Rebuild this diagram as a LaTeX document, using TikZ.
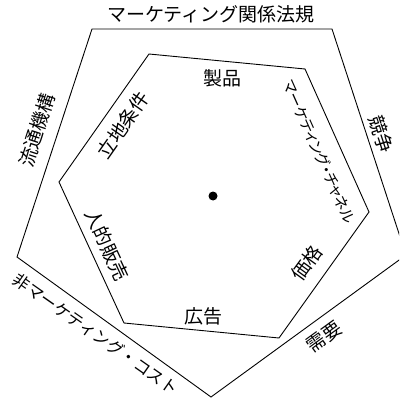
\documentclass[tikz,border=0pt]{standalone}
\usepackage{fontspec}
\newfontfamily\jp{Noto Sans CJK JP}
\newfontfamily\jpp{Noto Sans CJK JP}[RawFeature=+palt]
\begin{document}
\begin{tikzpicture}[x=1pt,y=-1pt,
  lbl/.style={font=\jp\fontsize{19}{19}\selectfont, inner sep=0pt},
  mid/.style={font=\jp\fontsize{16.5}{16.5}\selectfont, inner sep=0pt},
  small/.style={font=\jpp\fontsize{15}{15}\selectfont, inner sep=0pt},
  edge/.style={line width=0.9pt, line join=miter}]
\useasboundingbox (0,0) rectangle (399,403);
\clip (0,0) rectangle (399,403);
% outer pentagon
\coordinate (o1) at (92,29);
\coordinate (o2) at (332,29);
\coordinate (o3) at (406,255);
\coordinate (o4) at (211,397);
\coordinate (o5) at (17,257);
\draw[edge] (o1)--(o2)--(o3)--(o4)--(o5)--cycle;
% inner hexagon
\coordinate (i1) at (149,54);
\coordinate (i2) at (305,69);
\coordinate (i3) at (369,212);
\coordinate (i4) at (279,338);
\coordinate (i5) at (124,323);
\coordinate (i6) at (59,182);
\draw[edge] (i1)--(i2)--(i3)--(i4)--(i5)--(i6)--cycle;
% centre
\fill (213,196) circle (4.5);
% outer labels
\node[lbl] (law) at (211,14) {マーケティング関係法規};
\node[lbl, rotate=-72] (comp) at (381,134) {競争};
\node[lbl, rotate=36] (dem) at (324,337) {需要};
\node[mid, rotate=-35] (nmc) at (96,334) {非マーケティング・コスト};
\node[lbl, rotate=72] (dist) at (37,130) {流通機構};
% inner labels
\node[lbl] (prod) at (222,78) {製品};
\node[small, rotate=-66] (chan) at (319,152) {マーケティング・チャネル};
\node[lbl, rotate=54] (price) at (307,263) {価格};
\node[lbl] (adv) at (203,316) {広告};
\node[lbl, rotate=-65] (sell) at (107,245) {人的販売};
\node[lbl, rotate=55] (loc) at (123,125) {立地条件};
\end{tikzpicture}
\end{document}
